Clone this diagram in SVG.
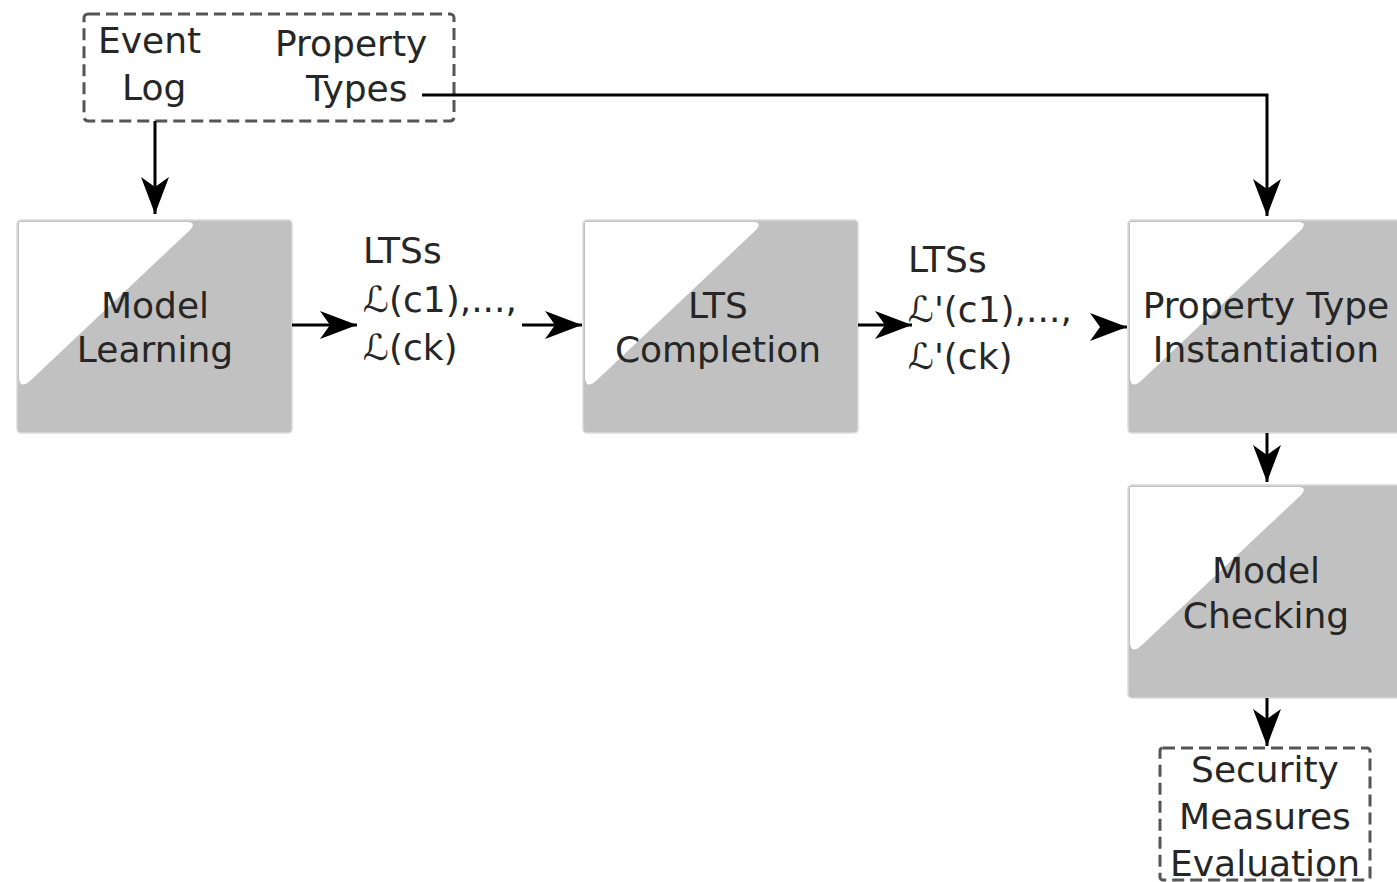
<svg xmlns="http://www.w3.org/2000/svg" width="1397" height="882" viewBox="0 0 1397 882">
<style>
text{font-family:"DejaVu Sans","Liberation Sans",sans-serif;fill:#262626;font-size:36px}
.c{text-anchor:middle}
.box{fill:#c1c1c1;stroke:#dadada;stroke-width:1.5}
.hl{fill:#ffffff}
.dash{fill:none;stroke:#555;stroke-width:3;stroke-dasharray:12 6}
.ln{fill:none;stroke:#000;stroke-width:3}
</style>
<defs>
<marker id="ah" viewBox="-38 -15 40 30" refX="0" refY="0" markerWidth="40" markerHeight="30" markerUnits="userSpaceOnUse" orient="auto">
<path d="M0,0 L-37,-14 L-27,0 L-37,14 Z" fill="#000"/>
</marker>
<path id="hl" d="M2,2 H170 Q180,2 173,10 L14,160 Q3,170 2,158 Z"/>
</defs>

<g id="input">
<rect class="dash" x="84" y="14" width="370" height="107" rx="4"/>
<text x="98" y="53">Event</text>
<text x="122" y="100">Log</text>
<text x="275" y="56">Property</text>
<text x="306" y="101">Types</text>
</g>

<g id="model-learning">
<rect class="box" x="17" y="220" width="275" height="213" rx="4"/>
<use href="#hl" class="hl" x="17" y="220"/>
<text class="c" x="155" y="318">Model</text>
<text class="c" x="155" y="362">Learning</text>
</g>

<g id="lts-completion">
<rect class="box" x="583" y="220" width="275" height="213" rx="4"/>
<use href="#hl" class="hl" x="583" y="220"/>
<text class="c" x="718" y="318">LTS</text>
<text class="c" x="718" y="362">Completion</text>
</g>

<g id="property-instantiation">
<rect class="box" x="1128" y="220" width="280" height="213" rx="4"/>
<use href="#hl" class="hl" x="1128" y="220"/>
<text class="c" x="1266" y="318">Property Type</text>
<text class="c" x="1266" y="362">Instantiation</text>
</g>

<g id="model-checking">
<rect class="box" x="1128" y="485" width="280" height="213" rx="4"/>
<use href="#hl" class="hl" x="1128" y="485"/>
<text class="c" x="1266" y="583">Model</text>
<text class="c" x="1266" y="628">Checking</text>
</g>

<g id="security">
<rect class="dash" x="1160" y="748" width="210" height="132" rx="3"/>
<text class="c" x="1265" y="782">Security</text>
<text class="c" x="1265" y="829">Measures</text>
<text class="c" x="1265" y="876">Evaluation</text>
</g>

<g id="label-lts1">
<text x="363" y="263">LTSs</text>
<text x="363" y="312">ℒ(c1),...,</text>
<text x="363" y="360">ℒ(ck)</text>
</g>

<g id="label-lts2">
<text x="908" y="272">LTSs</text>
<text x="908" y="322">ℒ'(c1),...,</text>
<text x="908" y="369">ℒ'(ck)</text>
</g>

<g id="connectors">
<path class="ln" d="M155,121 V214" marker-end="url(#ah)"/>
<path class="ln" d="M422,95 H1267 V216" marker-end="url(#ah)"/>
<path class="ln" d="M292,325 H357" marker-end="url(#ah)"/>
<path class="ln" d="M522,325 H582" marker-end="url(#ah)"/>
<path class="ln" d="M858,325 H912" marker-end="url(#ah)"/>
<path class="ln" d="M1100,327 H1127" marker-end="url(#ah)"/>
<path class="ln" d="M1267,433 V482" marker-end="url(#ah)"/>
<path class="ln" d="M1267,698 V746" marker-end="url(#ah)"/>
</g>
</svg>
